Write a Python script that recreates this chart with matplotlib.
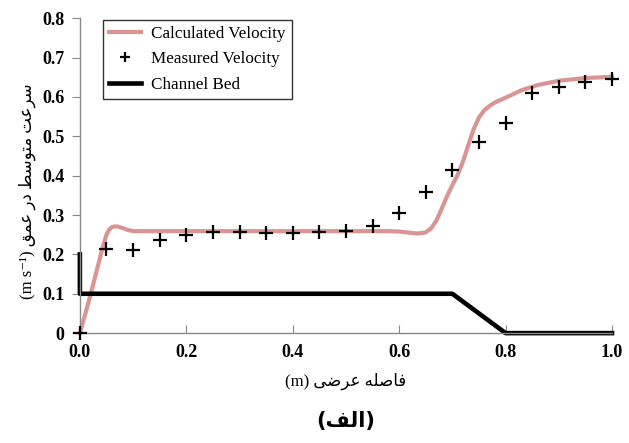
import numpy as np
import matplotlib
matplotlib.use('Agg')
import matplotlib.pyplot as plt

# measured velocity (crosses)
meas_x = [0.0, 0.05, 0.10, 0.15, 0.20, 0.25, 0.30, 0.35, 0.40, 0.45, 0.50,
          0.55, 0.60, 0.65, 0.70, 0.75, 0.80, 0.85, 0.90, 0.95, 1.00]
meas_v = [0.0, 0.213, 0.212, 0.237, 0.250, 0.257, 0.257, 0.255, 0.255, 0.256, 0.260,
          0.273, 0.305, 0.358, 0.414, 0.485, 0.534, 0.611, 0.625, 0.637, 0.646]

# calculated velocity (smooth curve)
calc_x = [0.0, 0.01, 0.02, 0.03, 0.04, 0.045, 0.05, 0.055, 0.06, 0.065, 0.07, 0.08,
          0.09, 0.10, 0.15, 0.20, 0.30, 0.40, 0.50, 0.58, 0.60, 0.62, 0.635, 0.65,
          0.66, 0.67, 0.68, 0.69, 0.70, 0.71, 0.72, 0.73, 0.74, 0.75, 0.76, 0.77,
          0.78, 0.80, 0.83, 0.86, 0.90, 0.95, 1.00]
calc_v = [0.0, 0.048, 0.098, 0.150, 0.203, 0.228, 0.250, 0.263, 0.269, 0.271, 0.271, 0.267,
          0.262, 0.259, 0.259, 0.259, 0.259, 0.259, 0.259, 0.259, 0.258, 0.255, 0.253, 0.256,
          0.266, 0.286, 0.316, 0.348, 0.376, 0.402, 0.436, 0.478, 0.518, 0.548, 0.566, 0.577,
          0.586, 0.598, 0.617, 0.630, 0.641, 0.648, 0.651]

# channel bed profile
bed_x = [0.0, 0.0, 0.70, 0.80, 1.00]
bed_y = [0.2, 0.1, 0.10, 0.00, 0.00]

x_ticks = [0.0, 0.2, 0.4, 0.6, 0.8, 1.0]
y_ticks = [0.0, 0.1, 0.2, 0.3, 0.4, 0.5, 0.6, 0.7, 0.8]
y_ticklabels = ['0', '0.1', '0.2', '0.3', '0.4', '0.5', '0.6', '0.7', '0.8']

# Persian labels written with presentation forms, in visual (left-to-right) order
# سرعت متوسط در عمق (m s-1)
y_label = ('(m s\u207b\u00b9) ' + '\uFED6\uFEE4\uFECB' + ' ' + '\uFEAD\uFEA9' + ' '
           + '\uFEC2\uFEB3\uFEEE\uFE98\uFEE3' + ' ' + '\uFE96\uFECB\uFEAE\uFEB3')
# فاصله عرضی (m)
x_label = '(m) ' + '\uFBFD\uFEBF\uFEAE\uFECB' + ' ' + '\uFEEA\uFEE0\uFEBB\uFE8E\uFED3'
# (الف)
title = '(' + '\uFED2\uFEDF\uFE8D' + ')'

serif = ['Liberation Serif', 'DejaVu Sans']

fig = plt.figure(figsize=(6.29, 4.43), dpi=100)
ax = fig.add_axes([0.127, 0.248, 0.846, 0.711])

ax.plot(calc_x, calc_v, color='#d99594', lw=3, label='Calculated Velocity',
        clip_on=False, zorder=2)
ax.plot(meas_x, meas_v, ls='none', marker='+', ms=10, mew=1.6, color='black',
        label='Measured Velocity', clip_on=False, zorder=3)
ax.plot(bed_x, bed_y, color='black', lw=3.3, label='Channel Bed',
        clip_on=False, zorder=2)

ax.set_xlim(0, 1.0)
ax.set_ylim(0, 0.8)
ax.set_xticks(x_ticks)
ax.set_xticklabels(['%.1f' % t for t in x_ticks], fontfamily='Liberation Serif',
                   fontweight='bold', fontsize=13)
ax.set_yticks(y_ticks)
ax.set_yticklabels(y_ticklabels, fontfamily='Liberation Serif',
                   fontweight='bold', fontsize=13)
ax.tick_params(axis='x', direction='in', length=6, color='#888888', pad=8)
ax.tick_params(axis='y', direction='out', length=6, color='#888888', pad=5)

for s in ['top', 'right']:
    ax.spines[s].set_visible(False)
for s in ['left', 'bottom']:
    ax.spines[s].set_color('#888888')
    ax.spines[s].set_linewidth(1.0)

ax.set_ylabel(y_label, family=serif, fontsize=12)
ax.yaxis.set_label_coords(-0.083, 0.45)
fig.text(0.55, 0.14, x_label, family=serif, fontsize=12, ha='center', va='center')
fig.text(0.55, 0.05, title, family=['DejaVu Sans'], fontsize=15, fontweight='bold',
         ha='center', va='center')

leg = ax.legend(loc='upper left', bbox_to_anchor=(0.043, 0.994), borderaxespad=0,
                frameon=True, fancybox=False, edgecolor='black',
                prop={'family': 'Liberation Serif', 'size': 12.3},
                handlelength=1.9, handletextpad=0.6, borderpad=0.35,
                labelspacing=0.55, markerscale=0.7)
leg.get_frame().set_linewidth(1.0)

plt.savefig('out.png', dpi=100)
